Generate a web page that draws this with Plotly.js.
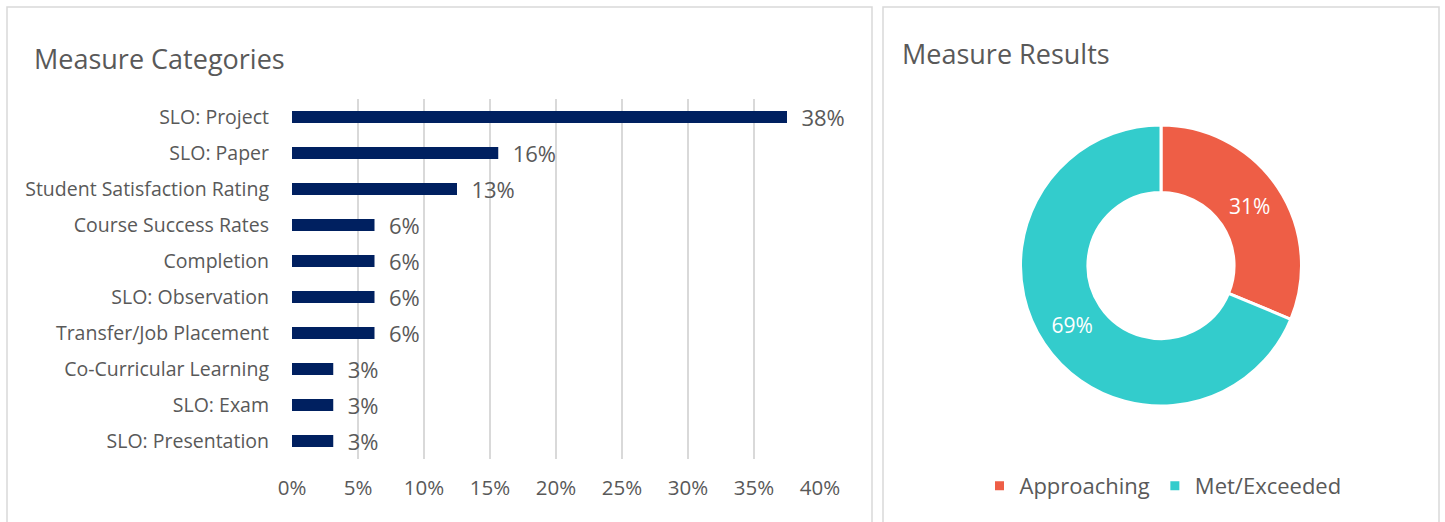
<!DOCTYPE html>
<html>
<head>
<meta charset="utf-8">
<script src="https://cdn.plot.ly/plotly-3.0.1.min.js"></script>
<style>html,body{margin:0;padding:0;background:#fff;}#chart{width:1445px;height:522px;}</style>
</head>
<body>
<div id="chart"></div>
<script>
// Bar chart: share of measures by category
const categories = ["SLO: Project","SLO: Paper","Student Satisfaction Rating","Course Success Rates","Completion","SLO: Observation","Transfer/Job Placement","Co-Curricular Learning","SLO: Exam","SLO: Presentation"];
const shares = [0.375, 0.15625, 0.125, 0.0625, 0.0625, 0.0625, 0.0625, 0.03125, 0.03125, 0.03125];
const xTickVals = [0, 0.05, 0.10, 0.15, 0.20, 0.25, 0.30, 0.35, 0.40];
const xTickText = ["0%","5%","10%","15%","20%","25%","30%","35%","40%"];

// Donut: measure results
const resultLabels = ["Approaching","Met/Exceeded"];
const resultValues = [10, 22];
const resultColors = ["#EE5E46","#33CCCC"];

const W = 1445, H = 522;
const px = x => x / W;
const py = y => 1 - y / H;
const gray = "#595959";
const FONT = "Open Sans, Noto Sans, sans-serif";

const bar = {
  type: "bar", orientation: "h",
  y: categories, x: shares,
  marker: {color: "#002060"},
  texttemplate: "\u00a0\u00a0%{x:.0%}",
  textposition: "outside",
  constraintext: "none",
  cliponaxis: false,
  textfont: {family: FONT, size: 22, color: gray},
  outsidetextfont: {family: FONT, size: 22, color: gray},
  hoverinfo: "skip",
  showlegend: false
};

const donut = {
  type: "pie",
  labels: resultLabels, values: resultValues,
  marker: {colors: resultColors, line: {color: "#ffffff", width: 3}},
  hole: 0.52,
  sort: false,
  direction: "clockwise",
  rotation: 0,
  texttemplate: "%{percent:.0%}",
  textposition: "inside",
  insidetextorientation: "horizontal",
  textfont: {family: FONT, size: 21, color: "#ffffff"},
  domain: {x: [px(1020.5), px(1301.5)], y: [py(406), py(125)]},
  hoverinfo: "skip",
  showlegend: true
};

const layout = {
  width: W, height: H,
  margin: {l: 0, r: 0, t: 0, b: 0},
  paper_bgcolor: "#ffffff", plot_bgcolor: "#ffffff",
  font: {family: FONT, color: gray},
  bargap: 0.66,
  xaxis: {
    domain: [px(292), px(820)],
    range: [0, 0.40],
    tickvals: xTickVals, ticktext: xTickText,
    showgrid: true, gridcolor: "#d9d9d9", gridwidth: 1.5,
    zeroline: false, showline: false, ticks: "",
    ticklabelstandoff: 14,
    tickfont: {family: FONT, size: 20.5, color: gray},
    fixedrange: true
  },
  yaxis: {
    domain: [py(459), py(99)],
    type: "category",
    categoryorder: "array", categoryarray: categories,
    autorange: "reversed",
    showgrid: false, zeroline: false, showline: false, ticks: "",
    ticklabelstandoff: 22,
    tickfont: {family: FONT, size: 19.5, color: gray},
    fixedrange: true
  },
  legend: {
    orientation: "h",
    x: px(1163), xanchor: "center",
    y: py(486), yanchor: "middle",
    font: {family: FONT, size: 22, color: gray},
    itemclick: false, itemdoubleclick: false
  },
  shapes: [
    {type: "rect", xref: "paper", yref: "paper", x0: px(7), x1: px(872), y0: -0.05, y1: py(7),
     line: {color: "#d9d9d9", width: 1.5}, fillcolor: "rgba(0,0,0,0)", layer: "below"},
    {type: "rect", xref: "paper", yref: "paper", x0: px(883), x1: px(1439), y0: -0.05, y1: py(7),
     line: {color: "#d9d9d9", width: 1.5}, fillcolor: "rgba(0,0,0,0)", layer: "below"}
  ],
  annotations: [
    {text: "Measure Categories", xref: "paper", yref: "paper", x: px(32), y: py(58),
     xanchor: "left", yanchor: "middle", showarrow: false,
     font: {family: FONT, size: 27, color: gray}},
    {text: "Measure Results", xref: "paper", yref: "paper", x: px(900), y: py(54),
     xanchor: "left", yanchor: "middle", showarrow: false,
     font: {family: FONT, size: 27, color: gray}}
  ]
};

Plotly.newPlot("chart", [bar, donut], layout, {displayModeBar: false, staticPlot: true});
</script>
</body>
</html>
